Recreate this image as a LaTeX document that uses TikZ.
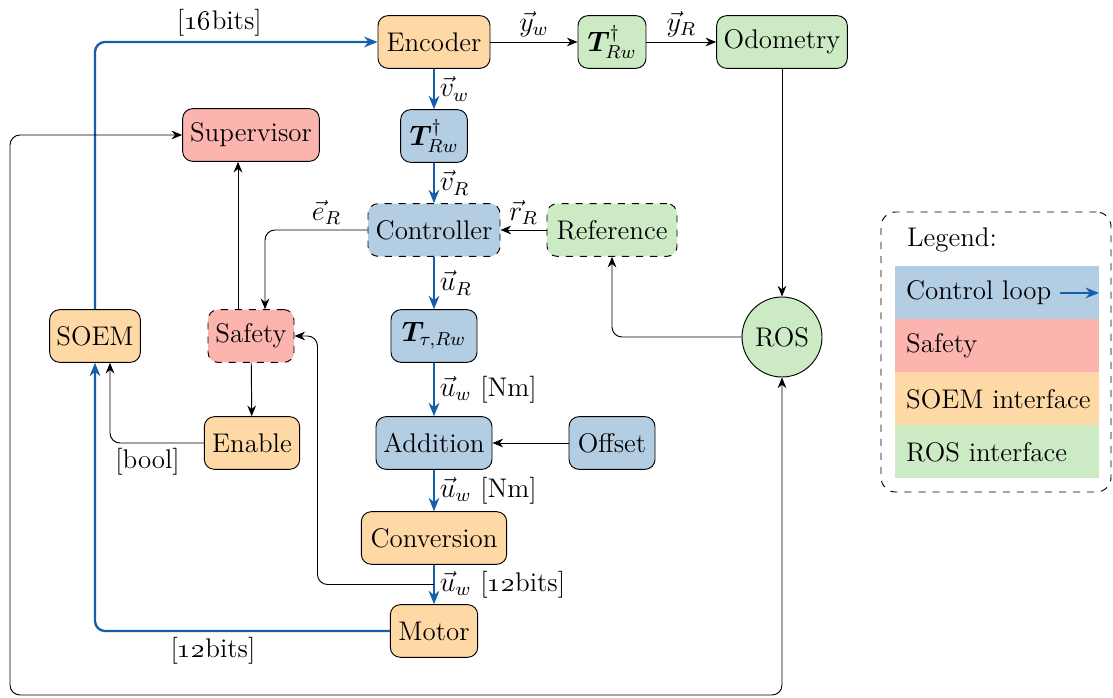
\documentclass[tikz,border=0pt]{standalone}
\usepackage{bm}
\usetikzlibrary{arrows.meta,calc}
\definecolor{cblue}{HTML}{B3CDE3}
\definecolor{cred}{HTML}{FBB4AE}
\definecolor{corange}{HTML}{FED9A6}
\definecolor{cgreen}{HTML}{CCEBC5}
\definecolor{lblue}{RGB}{21,94,170}
\tikzset{
  blk/.style={draw, rounded corners=0.15cm, minimum height=0.79cm, inner sep=2pt, font=\fontsize{11.5}{13}\selectfont},
  bb/.style={blk, fill=cblue},
  rb/.style={blk, fill=cred},
  ob/.style={blk, fill=corange},
  gb/.style={blk, fill=cgreen},
  arr/.style={-{Stealth[length=1.6mm,width=1.3mm]}, line width=0.4pt, rounded corners=0.15cm},
  ctrl/.style={-{Stealth[length=2mm,width=1.6mm]}, line width=1pt, draw=lblue, rounded corners=0.15cm},
  lbl/.style={font=\fontsize{11.5}{13}\selectfont, inner sep=2pt},
  legrow/.style={anchor=north west, minimum height=0.795cm, minimum width=3.045cm, inner sep=0pt}
}
\begin{document}
\begin{tikzpicture}[x=0.015cm,y=-0.015cm]
\useasboundingbox (0,0) rectangle (1113,698);
% nodes
\node[ob, minimum width=1.68cm] (enc) at (434,42) {Encoder};
\node[gb, minimum width=1.02cm] (tg) at (612,42) {$\bm{T}^{\dagger}_{Rw}$};
\node[gb, minimum width=1.96cm] (odo) at (782,42) {Odometry};
\node[bb, minimum width=1.0cm] (tb) at (434,136) {$\bm{T}^{\dagger}_{Rw}$};
\node[rb, minimum width=2.05cm] (sup) at (251,135) {Supervisor};
\node[bb, dashed, minimum width=1.98cm] (ctl) at (434,230) {Controller};
\node[gb, dashed, minimum width=1.95cm] (ref) at (612,230) {Reference};
\node[bb, minimum width=1.29cm] (tt) at (434,336) {$\bm{T}_{\tau,Rw}$};
\node[ob, minimum width=1.36cm] (soem) at (95,336) {SOEM};
\node[rb, dashed, minimum width=1.29cm] (saf) at (251,336) {Safety};
\node[draw, circle, fill=cgreen, minimum size=1.2cm, inner sep=1pt, font=\fontsize{11.5}{13}\selectfont] (ros) at (782,337) {ROS};
\node[ob, minimum width=1.43cm] (en) at (252,443) {Enable};
\node[bb, minimum width=1.74cm] (add) at (434,443) {Addition};
\node[bb, minimum width=1.29cm] (off) at (612,443) {Offset};
\node[ob, minimum width=2.18cm] (conv) at (434,538) {Conversion};
\node[ob, minimum width=1.31cm] (mot) at (434,631) {Motor};
% legend
\node[draw, dashed, rounded corners=0.22cm, minimum width=3.45cm, minimum height=4.2cm] (leg) at (996,352) {};
\node[lbl, anchor=west] (legt) at (902,240) {Legend:};
\node[legrow, fill=cblue] (l1) at (895,266) {};
\node[legrow, fill=cred] (l2) at (895,319) {};
\node[legrow, fill=corange] (l3) at (895,372) {};
\node[legrow, fill=cgreen] (l4) at (895,425) {};
\node[lbl, anchor=west] (t1) at ($(l1.west)+(6,0)$) {Control loop};
\node[lbl, anchor=west] (t2) at ($(l2.west)+(6,0)$) {Safety};
\node[lbl, anchor=west] (t3) at ($(l3.west)+(6,0)$) {SOEM interface};
\node[lbl, anchor=west] (t4) at ($(l4.west)+(6,0)$) {ROS interface};
\draw[ctrl, line width=0.8pt] ($(t1.east)+(4,0)$) -- (l1.east);
% control loop
\draw[ctrl] (soem.north) |- node[lbl, pos=0.72, above] {[\oldstylenums{16}bits]} (enc.west);
\draw[ctrl] (enc) -- node[lbl, right] {$\vec{v}_w$} (tb);
\draw[ctrl] (tb) -- node[lbl, right] {$\vec{v}_R$} (ctl);
\draw[ctrl] (ctl) -- node[lbl, right] {$\vec{u}_R$} (tt);
\draw[ctrl] (tt) -- node[lbl, right] {$\vec{u}_w$ [Nm]} (add);
\draw[ctrl] (add) -- node[lbl, right] {$\vec{u}_w$ [Nm]} (conv);
\draw[ctrl] (conv) -- node[lbl, right] {$\vec{u}_w$ [\oldstylenums{12}bits]} (mot);
\draw[ctrl] (mot.west) -| node[lbl, pos=0.3, below] {[\oldstylenums{12}bits]} (soem.south);
% black connectors
\draw[arr] (enc) -- node[lbl, above] {$\vec{y}_w$} (tg);
\draw[arr] (tg) -- node[lbl, above] {$\vec{y}_R$} (odo);
\draw[arr] (odo) -- (ros);
\draw[arr] (ros.west) -| (ref.south);
\draw[arr] (ref) -- node[lbl, above] {$\vec{r}_R$} (ctl);
\draw[arr] (off) -- (add);
\draw[arr] (ctl.west) -| node[lbl, pos=0.2, above] {$\vec{e}_R$} ($(saf.north)+(14,0)$);
\draw[arr] ($(saf.north)+(-13,0)$) -- ($(sup.south)+(-13,0)$);
\draw[arr] (saf) -- (en);
\draw[arr] (en.west) -| node[lbl, pos=0.3, below] {[bool]} ($(soem.south)+(15,0)$);
\coordinate (br) at ($(conv.south)!0.5!(mot.north)$);
\draw[arr] (br) -| ($(saf.east)+(23,0)$) -- (saf.east);
\coordinate (lb) at (10,695);
\draw[arr, {Stealth[length=1.6mm,width=1.3mm]}-{Stealth[length=1.6mm,width=1.3mm]}] (ros.south) |- (lb) |- (sup.west);
\end{tikzpicture}
\end{document}
